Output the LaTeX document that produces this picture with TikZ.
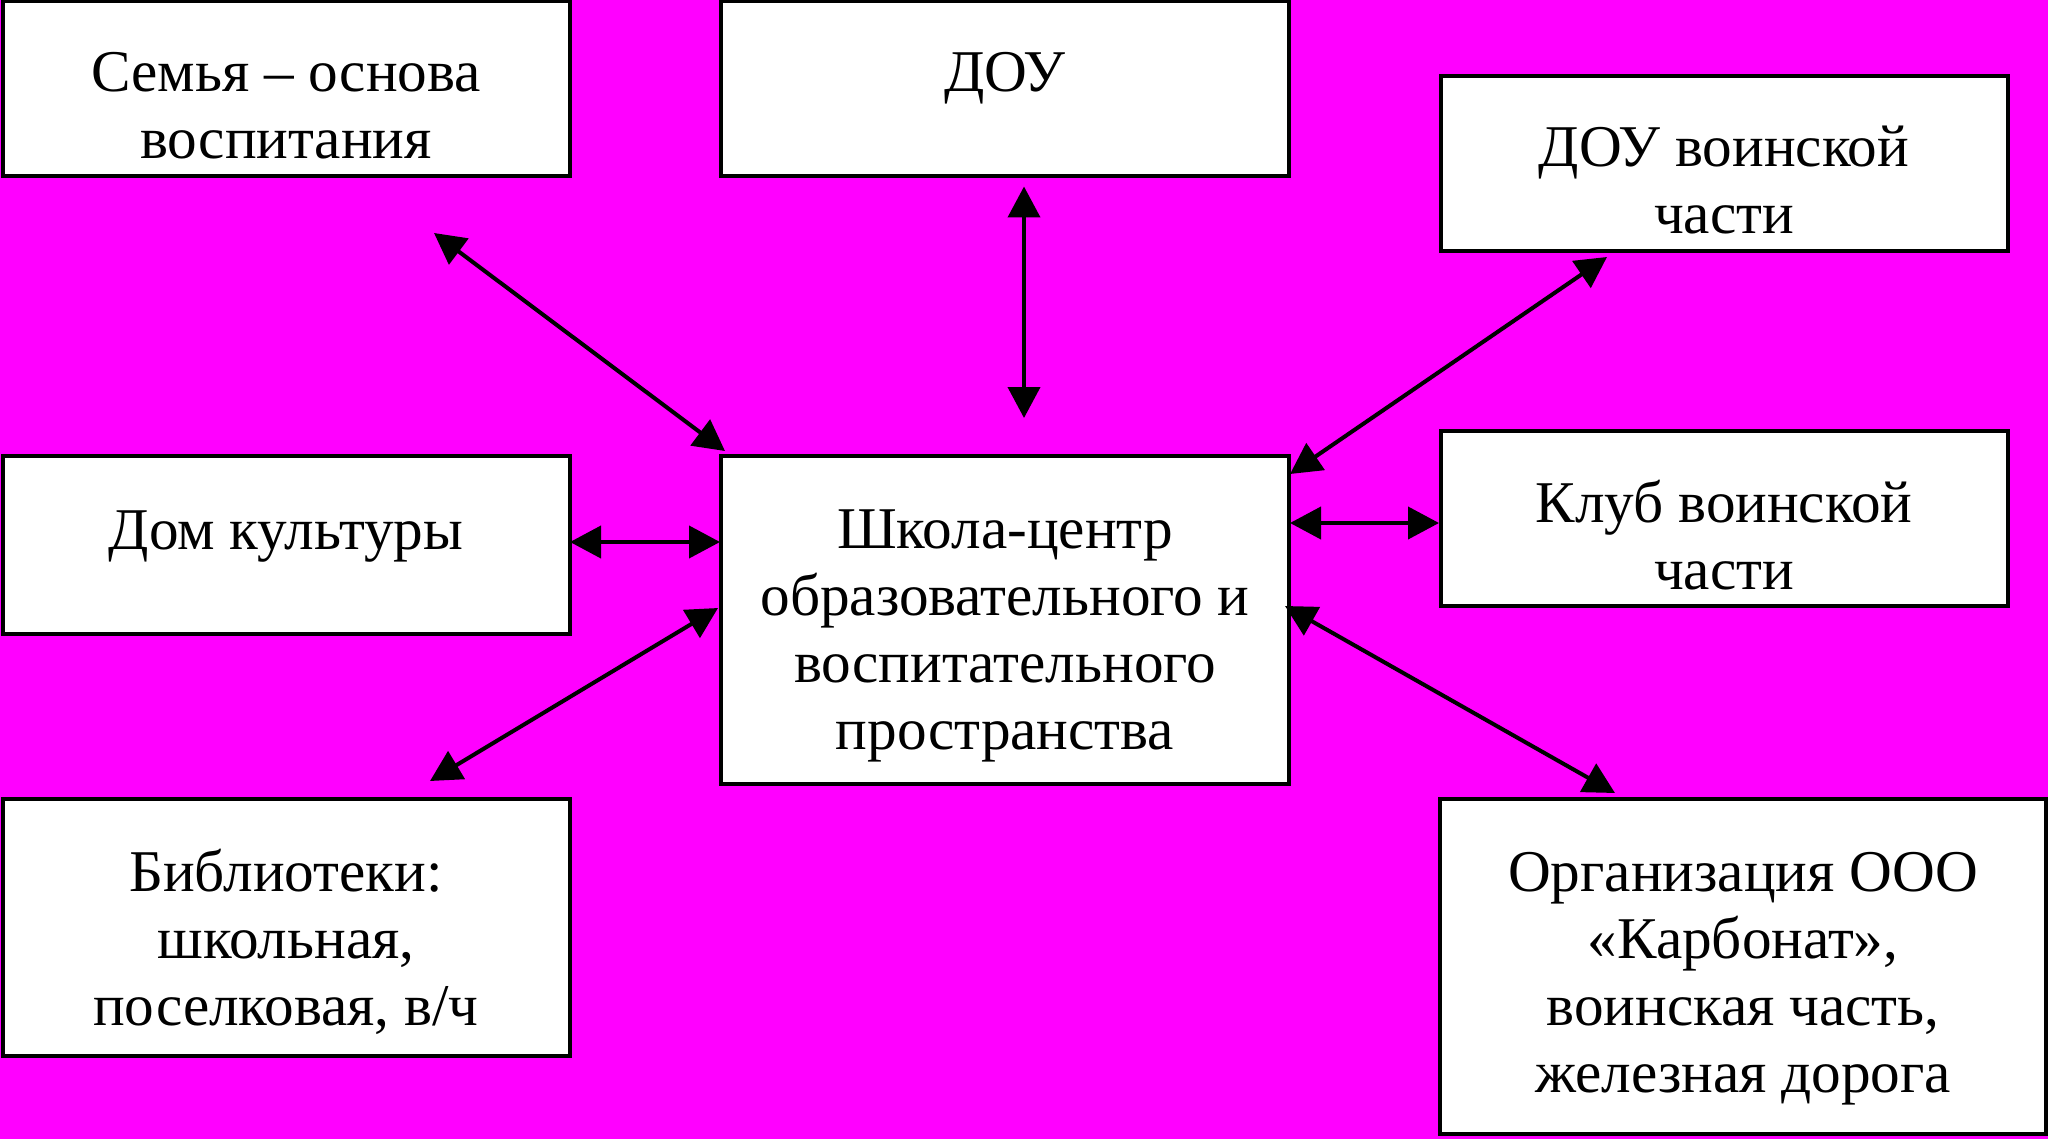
\documentclass[tikz,border=0pt]{standalone}
\usepackage{fontspec}
\setmainfont{Liberation Serif}
\usetikzlibrary{arrows.meta}
\definecolor{bgmag}{HTML}{FF00FF}
\newcommand{\tstrut}{\rule{0pt}{26pt}}
\begin{document}
\begin{tikzpicture}[x=0.5pt,y=-0.5pt,
  box/.style={draw=black, fill=white, line width=2pt, inner sep=0pt},
  txt/.style={anchor=north, inner sep=0pt, align=center, font=\fontsize{29.6}{33.5}\selectfont},
  conn/.style={line width=2pt, {Triangle[length=15.5pt,width=16pt]}-{Triangle[length=15.5pt,width=16pt]}}]
\useasboundingbox (0,0) rectangle (2048,1139);
\fill[bgmag] (0,0) rectangle (2048,1139);
% boxes
\node[box, minimum width=283.5pt, minimum height=87.5pt] (fam) at (286,89) {};
\node[box, minimum width=284pt, minimum height=87.5pt] (dou) at (1005,89) {};
\node[box, minimum width=283.5pt, minimum height=87.25pt] (douvch) at (1724,163.25) {};
\node[box, minimum width=283.5pt, minimum height=87.8pt] (klub) at (1724,518.5) {};
\node[box, minimum width=283.5pt, minimum height=88.75pt] (dom) at (286,544.75) {};
\node[box, minimum width=284pt, minimum height=164pt] (school) at (1005,620) {};
\node[box, minimum width=283.5pt, minimum height=128.35pt] (bibl) at (286,927.7) {};
\node[box, minimum width=302.6pt, minimum height=167.5pt] (org) at (1743,966.8) {};
% texts
\node[txt] (famt) at (286,39) {\tstrut Семья – основа\\воспитания};
\node[txt] (dout) at (1005,39) {\tstrut ДОУ};
\node[txt] (douvcht) at (1724,114.5) {\tstrut ДОУ воинской\\части};
\node[txt] (klubt) at (1724,470) {\tstrut Клуб воинской\\части};
\node[txt] (domt) at (286,497) {\tstrut Дом культуры};
\node[txt] (schoolt) at (1005,496) {\tstrut Школа-центр\\образовательного и\\воспитательного\\пространства};
\node[txt] (biblt) at (286,839) {\tstrut Библиотеки:\\школьная,\\поселковая, в/ч};
\node[txt] (orgt) at (1743,839) {\tstrut Организация ООО\\«Карбонат»,\\воинская часть,\\железная дорога};
% connector ends
\coordinate (famE) at (434,233);
\coordinate (schFam) at (725,451);
\coordinate (douE) at (1024,186.5);
\coordinate (schDou) at (1024,418);
\coordinate (douvchE) at (1607,257);
\coordinate (schDouvch) at (1290,474);
\coordinate (schKlub) at (1290,523);
\coordinate (klubE) at (1439,523);
\coordinate (domE) at (570,542);
\coordinate (schDom) at (720,542);
\coordinate (schBibl) at (718,608);
\coordinate (biblE) at (430,781);
\coordinate (schOrg) at (1285,606);
\coordinate (orgE) at (1615,793);
% connectors
\draw[conn] (famE) -- (schFam);
\draw[conn] (douE) -- (schDou);
\draw[conn] (douvchE) -- (schDouvch);
\draw[conn] (schKlub) -- (klubE);
\draw[conn] (domE) -- (schDom);
\draw[conn] (schBibl) -- (biblE);
\draw[conn] (schOrg) -- (orgE);
\end{tikzpicture}
\end{document}
